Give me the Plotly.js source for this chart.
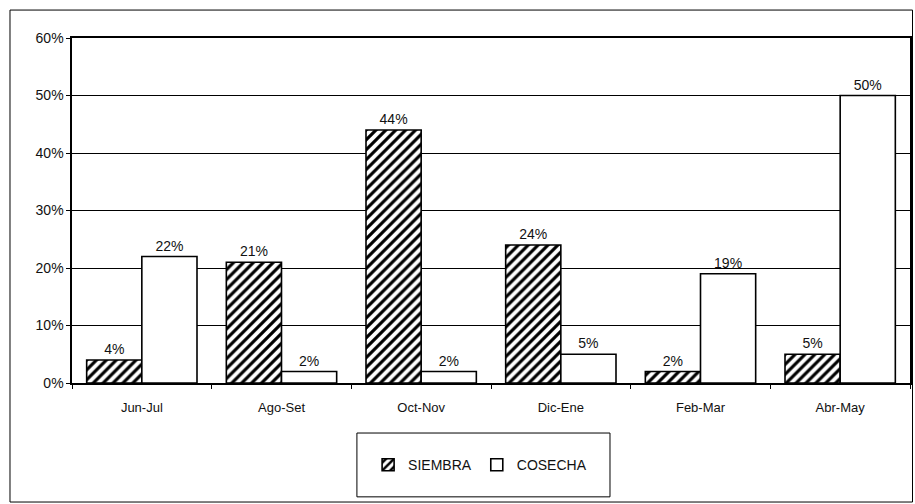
<!DOCTYPE html>
<html><head><meta charset="utf-8">
<script src="https://cdn.plot.ly/plotly-3.0.1.min.js"></script>
<style>html,body{margin:0;padding:0;background:#fff}#c{width:915px;height:504px}</style>
</head><body><div id="c"></div>
<script>
var categories = ["Jun-Jul","Ago-Set","Oct-Nov","Dic-Ene","Feb-Mar","Abr-May"];
var siembra = [4,21,44,24,2,5];
var cosecha = [22,2,2,5,19,50];
var yTicks = [0,10,20,30,40,50,60];
var yTickText = ["0%","10%","20%","30%","40%","50%","60%"];

var fam = "Liberation Sans, Arial, sans-serif";
function pct(a){ return a.map(function(v){ return v + "%"; }); }
var traces = [
 {type:"bar", name:"SIEMBRA", x:categories, y:siembra, text:pct(siembra),
  marker:{color:"#fff", line:{color:"#000", width:1.6},
   pattern:{shape:"/", fgcolor:"#000", bgcolor:"#fff", size:7, solidity:0.45}},
  texttemplate:"%{text}", textposition:"outside", cliponaxis:false,
  textfont:{family:fam, size:14, color:"#111"}},
 {type:"bar", name:"COSECHA", x:categories, y:cosecha, text:pct(cosecha),
  marker:{color:"#fff", line:{color:"#000", width:1.6}},
  texttemplate:"%{text}", textposition:"outside", cliponaxis:false,
  textfont:{family:fam, size:14, color:"#111"}}
];
var layout = {
 width:915, height:504, paper_bgcolor:"#fff", plot_bgcolor:"#fff",
 margin:{l:72, r:5, t:38, b:121},
 barmode:"group", bargap:0.21, bargroupgap:0,
 font:{family:fam, size:13, color:"#111"}, showlegend:true,
 xaxis:{showline:true, linecolor:"#000", linewidth:1.6, mirror:true, ticks:"outside",
   tickson:"boundaries", ticklen:4, tickcolor:"#000", showgrid:false, ticklabelstandoff:12,
   tickfont:{family:fam, size:13, color:"#111"}},
 yaxis:{range:[0,60], tickvals:yTicks, ticktext:yTickText, showgrid:true, gridcolor:"#000", gridwidth:1,
   showline:true, linecolor:"#000", linewidth:1.6, mirror:true, ticks:"outside", ticklen:4, tickcolor:"#000",
   zeroline:false, tickfont:{family:fam, size:14, color:"#111"}},
 legend:{orientation:"h", x:0.487, xanchor:"center", y:-0.238, yanchor:"middle",
   font:{family:fam, size:14, color:"#111"}, bgcolor:"rgba(0,0,0,0)", itemwidth:30},
 shapes:[
  {type:"rect", xref:"paper", yref:"paper", x0:-0.074, x1:1.003, y0:-0.345, y1:1.081,
   line:{color:"#000", width:1}, fillcolor:"rgba(0,0,0,0)"},
  {type:"rect", xref:"paper", yref:"paper", x0:0.340, x1:0.642, y0:-0.330, y1:-0.145,
   line:{color:"#000", width:1}, fillcolor:"rgba(0,0,0,0)"}
 ]
};
Plotly.newPlot("c", traces, layout, {displayModeBar:false, staticPlot:true});
</script></body></html>
